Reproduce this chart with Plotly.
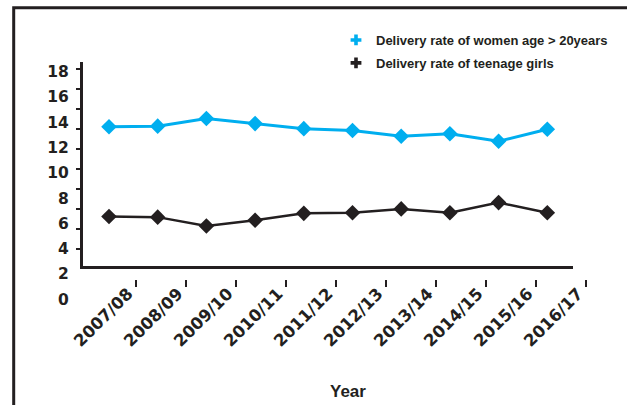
import plotly.graph_objects as go

# ---------------- data ----------------
years = ["2007/08", "2008/09", "2009/10", "2010/11", "2011/12",
         "2012/13", "2013/14", "2014/15", "2015/16", "2016/17"]
women_over_20 = [13.65, 13.7, 14.3, 13.9, 13.5, 13.35, 12.9, 13.1, 12.5, 13.45]
teenage_girls = [6.55, 6.5, 5.8, 6.25, 6.8, 6.85, 7.15, 6.85, 7.65, 6.85]
y_tick_labels = [0, 2, 4, 6, 8, 10, 12, 14, 16, 18]

BLUE = "#00aeef"
DARK = "#231f20"

# ---------------- layout geometry (pixels) ----------------
W, H = 627, 405
L, R, T, B = 83, 600, 62, 310          # plot area
PW, PH = R - L, B - T

def px(xp):  # pixel x -> paper x
    return (xp - L) / PW

def py(yp):  # pixel y -> paper y
    return (B - yp) / PH

# y scale: value v sits at pixel 299.3 - 12.64*v
def v_at(yp):
    return (299.3 - yp) / 12.64

fig = go.Figure()

fig.add_trace(go.Scatter(
    x=years, y=women_over_20, mode="lines+markers",
    line=dict(color=BLUE, width=3),
    marker=dict(symbol="diamond", size=12, color=BLUE),
    showlegend=False, name="Delivery rate of women age > 20years"))
fig.add_trace(go.Scatter(
    x=years, y=teenage_girls, mode="lines+markers",
    line=dict(color=DARK, width=2.5),
    marker=dict(symbol="diamond", size=12, color=DARK),
    showlegend=False, name="Delivery rate of teenage girls"))

# legend entries (cross glyphs as in the original)
fig.add_trace(go.Scatter(x=[None], y=[None], mode="markers",
                         marker=dict(symbol="cross", size=9, color=BLUE),
                         name="Delivery rate of women age > 20years", legendgroup="a"))
fig.add_trace(go.Scatter(x=[None], y=[None], mode="markers",
                         marker=dict(symbol="cross", size=9, color=DARK),
                         name="Delivery rate of teenage girls", legendgroup="b"))

# helper traces so the label axes get drawn
fig.add_trace(go.Scatter(x=[None], y=[None], xaxis="x", yaxis="y2",
                         showlegend=False, hoverinfo="skip"))
fig.add_trace(go.Scatter(x=years, y=[None] * len(years), xaxis="x2", yaxis="y3",
                         showlegend=False, hoverinfo="skip"))

fig.update_layout(
    width=W, height=H,
    margin=dict(l=L, r=W - R, t=T, b=H - B),
    paper_bgcolor="white", plot_bgcolor="rgba(0,0,0,0)",
    font=dict(family="Liberation Sans", color=DARK),
    xaxis=dict(
        domain=[0, px(572.7)], anchor="y",
        type="category", categoryorder="array", categoryarray=years,
        range=[(L - 109) / 48.7, (572.7 - 109) / 48.7],
        showline=True, linecolor=DARK, linewidth=2.5,
        showgrid=False, zeroline=False, ticks="", showticklabels=False,
    ),
    yaxis=dict(
        domain=[py(265.7), 1], anchor="x",
        range=[v_at(265.7), v_at(T)],
        showline=True, linecolor=DARK, linewidth=2.5,
        showgrid=False, zeroline=False,
        ticks="outside", ticklen=4, tickwidth=2, tickcolor=DARK,
        tickmode="linear", tick0=v_at(249.3), dtick=20 / 12.64,
        showticklabels=False,
    ),
    yaxis2=dict(
        domain=[0, 1], anchor="x",
        range=[v_at(B), v_at(T)],
        showline=False, showgrid=False, zeroline=False,
        ticks="outside", ticklen=10, tickcolor="rgba(0,0,0,0)",
        tickmode="array", tickvals=y_tick_labels,
        ticktext=[str(v) for v in y_tick_labels],
        tickfont=dict(family="DejaVu Sans", size=15.5, color=DARK, weight="bold"),
    ),
    yaxis3=dict(
        domain=[py(279), py(275)], anchor="x2", visible=False,
        range=[0, 1],
    ),
    xaxis2=dict(
        domain=[0, 1], anchor="y3",
        type="category", categoryorder="array", categoryarray=years,
        range=[(L - 136) / 50, (R - 136) / 50],
        showline=False, showgrid=False, zeroline=False,
        ticks="outside", ticklen=6.5, tickwidth=2, tickcolor=DARK,
        tickangle=-45,
        ticklabelshift=-8, ticklabelstandoff=-9,
        tickfont=dict(family="DejaVu Sans", size=16.5, color=DARK, weight="bold"),
    ),
    legend=dict(
        x=px(336), y=py(25), xanchor="left", yanchor="top",
        font=dict(family="Liberation Sans", size=13, color=DARK, weight="bold"),
        bgcolor="rgba(0,0,0,0)", traceorder="grouped", tracegroupgap=3,
    ),
    annotations=[dict(
        text="<b>Year</b>", x=px(348), y=py(391.7), xref="paper", yref="paper",
        xanchor="center", yanchor="middle", showarrow=False,
        font=dict(family="Liberation Sans", size=17, color=DARK),
    )],
    shapes=[dict(
        type="rect", xref="paper", yref="paper",
        x0=px(13.7), y0=py(500), x1=px(720), y1=py(7.7),
        line=dict(color=DARK, width=3), fillcolor="rgba(0,0,0,0)", layer="below",
    )],
)

fig.write_html(
    "out.html",
    config={"displayModeBar": False},
    post_script="document.body.style.margin='0';document.body.style.overflow='hidden';",
)
